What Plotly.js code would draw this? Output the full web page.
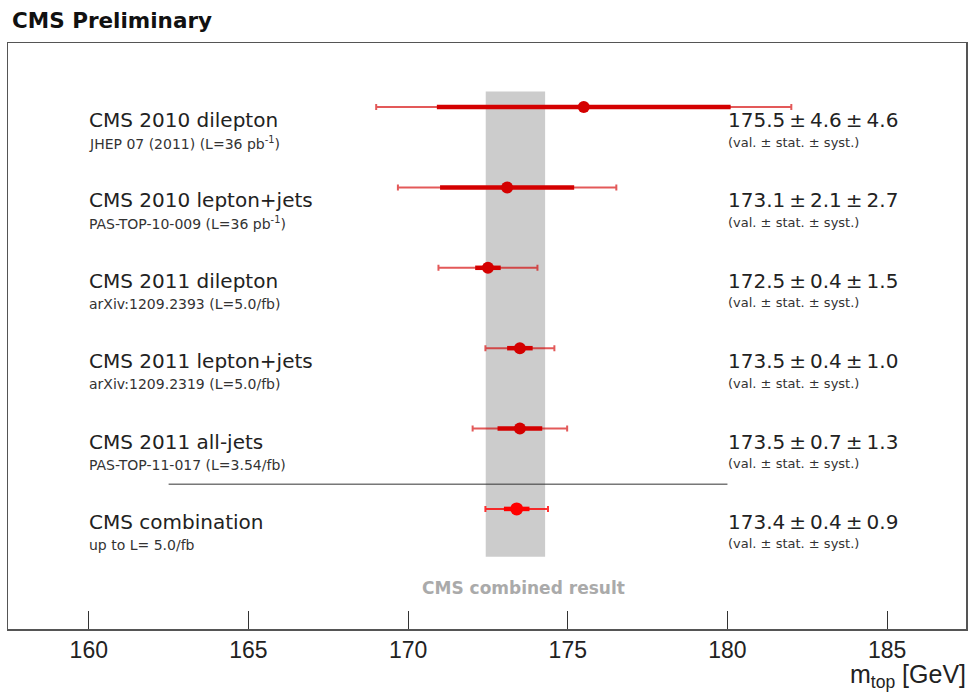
<!DOCTYPE html>
<html>
<head>
<meta charset="utf-8">
<script src="https://cdn.plot.ly/plotly-3.0.1.min.js"></script>
<style>
html,body{margin:0;padding:0;background:#fff;}
#chart{width:969px;height:694px;}
</style>
</head>
<body>
<div id="chart"></div>
<script>
// ---- data ----
const labels = ["CMS 2010 dilepton", "CMS 2010 lepton+jets", "CMS 2011 dilepton", "CMS 2011 lepton+jets", "CMS 2011 all-jets", "CMS combination"];
const refs = ["JHEP 07 (2011) (L=36 pb<sup>-1</sup>)", "PAS-TOP-10-009 (L=36 pb<sup>-1</sup>)", "arXiv:1209.2393 (L=5.0/fb)", "arXiv:1209.2319 (L=5.0/fb)", "PAS-TOP-11-017 (L=3.54/fb)", "up to L= 5.0/fb"];
const mtop = [175.5, 173.1, 172.5, 173.5, 173.5, 173.4];
const statErr = [4.6, 2.1, 0.4, 0.4, 0.7, 0.4];
const systErr = [4.6, 2.7, 1.5, 1.0, 1.3, 0.9];
const totalErr = [6.5, 3.42, 1.55, 1.08, 1.48, 0.98];
const rows = [0, 1, 2, 3, 4, 5];
const xTicks = [160, 165, 170, 175, 180, 185];
const combBand = [172.43, 174.29];   // grey band edges

const nMeas = 5;
const measIdx = rows.slice(0, nMeas);
const combIdx = [5];
const pick = (arr, idx) => idx.map(i => arr[i]);

const darkRed = '#d40000';
const brightRed = '#ff0000';
const FONT = 'DejaVu Sans, sans-serif';

function group(idx, col, outerCol, msize) {
  return [
    { type: 'scatter', mode: 'markers', x: pick(mtop, idx), y: pick(rows, idx),
      marker: { size: 1, opacity: 0 },
      error_x: { type: 'data', array: pick(totalErr, idx), visible: true, thickness: 2, width: 3, color: outerCol },
      showlegend: false, hoverinfo: 'skip' },
    { type: 'scatter', mode: 'markers', x: pick(mtop, idx), y: pick(rows, idx),
      marker: { size: 1, opacity: 0 },
      error_x: { type: 'data', array: pick(statErr, idx), visible: true, thickness: 4.5, width: 0, color: col },
      showlegend: false, hoverinfo: 'skip' },
    { type: 'scatter', mode: 'markers', x: pick(mtop, idx), y: pick(rows, idx),
      marker: { size: msize, color: col },
      showlegend: false, hoverinfo: 'skip' }
  ];
}

const traces = [].concat(
  group(measIdx, darkRed, 'rgba(212,0,0,0.65)', 12),
  group(combIdx, brightRed, 'rgba(255,0,0,0.8)', 13)
);

const annotations = [];
rows.forEach(i => {
  annotations.push({ xref: 'x', yref: 'y', x: 159.93, y: rows[i], xanchor: 'left', yanchor: 'middle',
    yshift: -13, text: labels[i], showarrow: false, font: { family: FONT, size: 20, color: '#222' } });
  annotations.push({ xref: 'x', yref: 'y', x: 159.93, y: rows[i], xanchor: 'left', yanchor: 'middle',
    yshift: -36, text: refs[i], showarrow: false, font: { family: FONT, size: 14, color: '#333' } });
  const v = mtop[i].toFixed(1) + '\u2009\u00b1\u2009' + statErr[i].toFixed(1) + '\u2009\u00b1\u2009' + systErr[i].toFixed(1);
  annotations.push({ xref: 'x', yref: 'y', x: 179.95, y: rows[i], xanchor: 'left', yanchor: 'middle',
    yshift: -13, text: v, showarrow: false, font: { family: FONT, size: 20, color: '#222' } });
  annotations.push({ xref: 'x', yref: 'y', x: 179.95, y: rows[i], xanchor: 'left', yanchor: 'middle',
    yshift: -35, text: '(val. \u00b1 stat. \u00b1 syst.)', showarrow: false, font: { family: FONT, size: 13, color: '#333' } });
});
annotations.push({ xref: 'x', yref: 'y', x: 173.6, y: 5.98, xanchor: 'center', yanchor: 'middle',
  text: '<b>CMS combined result</b>', showarrow: false, font: { family: FONT, size: 17, color: '#aaaaaa' } });
annotations.push({ xref: 'paper', yref: 'paper', x: 1.002, y: -0.05, xanchor: 'right', yanchor: 'top',
  text: 'm<sub>top</sub> [GeV]', showarrow: false, font: { family: 'Liberation Sans, Arial, sans-serif', size: 25, color: '#222' } });

const shapes = [
  { type: 'rect', xref: 'x', yref: 'y', layer: 'below',
    x0: combBand[0], x1: combBand[1], y0: -0.194, y1: 5.594,
    fillcolor: '#cccccc', line: { width: 0 } },
  { type: 'line', xref: 'x', yref: 'y', layer: 'below',
    x0: 162.5, x1: 180, y0: 4.692, y1: 4.692, line: { color: '#333', width: 1 } }
];

const layout = {
  width: 969, height: 694,
  margin: { l: 8, r: 3, t: 43, b: 65, pad: 0 },
  paper_bgcolor: '#fff', plot_bgcolor: '#fff',
  title: { text: '<b>CMS Preliminary</b>', x: 12 / 969, xref: 'container', xanchor: 'left',
    y: 1 - 20.5 / 694, yref: 'container', yanchor: 'middle',
    font: { family: FONT, size: 21.5, color: '#111' } },
  xaxis: { range: [157.47, 187.47], tickvals: xTicks, ticktext: xTicks.map(String),
    ticks: 'inside', ticklen: 18, tickwidth: 1, tickcolor: '#333',
    showgrid: false, zeroline: false, showline: true, mirror: true, linecolor: '#555', linewidth: 1.5,
    tickfont: { family: 'Liberation Sans, Arial, sans-serif', size: 23, color: '#222' }, fixedrange: true },
  yaxis: { range: [6.494, -0.797], showticklabels: false, ticks: '', showgrid: false, zeroline: false,
    showline: true, mirror: true, linecolor: '#555', linewidth: 1.5, fixedrange: true },
  shapes: shapes,
  annotations: annotations,
  showlegend: false,
  hovermode: false
};

Plotly.newPlot('chart', traces, layout, { staticPlot: true, displayModeBar: false });
</script>
</body>
</html>
